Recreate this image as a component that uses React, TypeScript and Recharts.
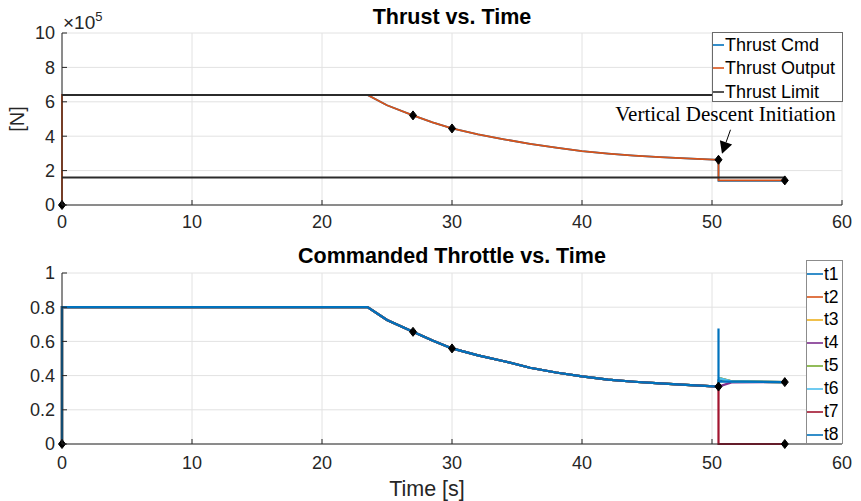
import React from 'react';
import { ComposedChart, Line, XAxis, YAxis, CartesianGrid, Legend, ReferenceDot } from 'recharts';

// ---------- data ----------
const xTicks = [0, 10, 20, 30, 40, 50, 60];
const thrustTicks = [0, 200000, 400000, 600000, 800000, 1000000];
const throttleTicks = [0, 0.2, 0.4, 0.6, 0.8, 1];

// Thrust [N] (t [s], value)
const thrustOutputPts: number[][] = [
  [0, 0], [0, 640000], [23.5, 640000], [25, 580000], [27, 521000], [28.5, 480000], [30, 445000],
  [32, 410000], [34, 382000], [36, 356000], [38, 333000], [40, 313000], [42, 299000], [44, 287000],
  [46, 278000], [48, 271000], [50.5, 263000], [50.5, 143000], [55.6, 143000],
];
const thrustCmdPts: number[][] = [
  [0, 0], [0, 640000], [23.5, 640000], [25, 580000], [27, 521000], [28.5, 480000], [30, 445000],
  [32, 410000], [34, 382000], [36, 356000], [38, 333000], [40, 313000], [42, 299000], [44, 287000],
  [46, 278000], [48, 271000], [50.5, 263000], [50.5, 140000], [55.6, 140000],
];
const thrustLimitUpperPts: number[][] = [[0, 640000], [55.6, 640000]];
const thrustLimitLowerPts: number[][] = [[0, 160000], [55.6, 160000]];
const thrustMarkerPts: number[][] = [[0, 0], [27, 521000], [30, 445000], [50.5, 263000], [55.6, 143000]];
const descentPoint = { t: 50.5, v: 263000 };

const thrustNames = ['Thrust Cmd', 'Thrust Output', 'Thrust Limit'];
const thrustColors = ['#0072BD', '#D95319', '#2b2b2b'];

// Commanded throttle
const throttleBasePts: number[][] = [
  [0, 0], [0, 0.8], [23.5, 0.8], [25, 0.725], [27, 0.656], [28.5, 0.605], [30, 0.559],
  [32, 0.518], [34, 0.484], [36, 0.446], [38, 0.418], [40, 0.395], [42, 0.377], [44, 0.364],
  [46, 0.354], [48, 0.346], [50.5, 0.336],
];
const tailT1: number[][] = [[50.5, 0.37], [51.5, 0.366], [55.6, 0.362]];
const tailT2: number[][] = [[50.55, 0.385], [51.5, 0.366], [55.6, 0.362]];
const tailT3: number[][] = [[50.55, 0.385], [51.5, 0.366], [55.6, 0.362]];
const tailT4: number[][] = [[51.5, 0.36], [55.6, 0.362]];
const tailT5: number[][] = [[50.55, 0.385], [51.5, 0.366], [55.6, 0.362]];
const tailT6: number[][] = [[50.55, 0.385], [51.5, 0.366], [55.6, 0.362]];
const tailT7: number[][] = [[50.5, 0], [55.6, 0]];
const tailT8: number[][] = [[50.5, 0.675], [50.5, 0.366], [55.6, 0.362]];
const throttleMarkerPts: number[][] = [[0, 0], [27, 0.656], [30, 0.559], [50.5, 0.336], [55.6, 0.362], [55.6, 0]];

const throttleNames = ['t1', 't2', 't3', 't4', 't5', 't6', 't7', 't8'];
const throttleTails = [tailT1, tailT2, tailT3, tailT4, tailT5, tailT6, tailT7, tailT8];
const throttleColors = ['#0072BD', '#D95319', '#EDB120', '#7E2F8E', '#77AC30', '#4DBEEE', '#A2142F', '#0072BD'];

const toPts = (arr: number[][]) => arr.map(([t, v]) => ({ t, v }));

// ---------- styling ----------
const FONT = '"Liberation Sans", Arial, Helvetica, sans-serif';
const SERIF = '"Liberation Serif", "Times New Roman", serif';
const AXIS = '#262626';
const GRID = '#e2e2e2';
const TICK_LEN = 5;
const TICK_FONT = 18;

const makeBottomTick = (margin: number) => (props: any) => {
  const { x, y, payload } = props;
  const ay = y - margin;
  return (
    <g>
      <line x1={x} x2={x} y1={ay} y2={ay - TICK_LEN} stroke={AXIS} />
      <text x={x} y={y} dy="0.71em" textAnchor="middle" fill={AXIS} fontSize={TICK_FONT} fontFamily={FONT}>
        {payload.value}
      </text>
    </g>
  );
};
const TopTick = (props: any) => {
  const { x, y } = props;
  return <line x1={x} x2={x} y1={y} y2={y + TICK_LEN} stroke={AXIS} />;
};
const makeLeftTick = (margin: number, fmt: (v: number) => string) => (props: any) => {
  const { x, y, payload } = props;
  const ax = x + margin;
  return (
    <g>
      <line x1={ax} x2={ax + TICK_LEN} y1={y} y2={y} stroke={AXIS} />
      <text x={x} y={y} dy="0.355em" textAnchor="end" fill={AXIS} fontSize={TICK_FONT} fontFamily={FONT}>
        {fmt(payload.value)}
      </text>
    </g>
  );
};
const RightTick = (props: any) => {
  const { x, y } = props;
  return <line x1={x} x2={x - TICK_LEN} y1={y} y2={y} stroke={AXIS} />;
};

const YLabel = (props: any) => {
  const vb = props.viewBox || { x: 0, y: 0, width: 0, height: 0 };
  const cx = vb.x + 17;
  const cy = vb.y + vb.height / 2;
  return (
    <text x={cx} y={cy} dy="0.36em" textAnchor="middle" transform={`rotate(-90, ${cx}, ${cy})`} fontSize={20} fontFamily={FONT} fill={AXIS}>
      [N]
    </text>
  );
};
const XLabel = (props: any) => {
  const vb = props.viewBox || { x: 0, y: 0, width: 0, height: 0 };
  return (
    <text x={vb.x + vb.width / 2 - 25} y={vb.y + vb.height - 5} textAnchor="middle" fontSize={21.5} fontFamily={FONT} fill={AXIS}>
      Time [s]
    </text>
  );
};

const Diamond = (props: any) => {
  const { cx, cy, index } = props;
  if (cx == null || cy == null) return <g key={index} />;
  return (
    <path
      key={index}
      d={`M${cx},${cy - 4.5}L${cx + 3.5},${cy}L${cx},${cy + 4.5}L${cx - 3.5},${cy}Z`}
      fill="#000"
      stroke="#000"
      strokeWidth={1}
    />
  );
};

const Annotation = (props: any) => {
  const { cx, cy } = props;
  const tipX = cx + 3.5;
  const tipY = cy - 6;
  const tailX = cx + 12;
  const tailY = cy - 30;
  const dx = tipX - tailX;
  const dy = tipY - tailY;
  const len = Math.hypot(dx, dy);
  const ux = dx / len;
  const uy = dy / len;
  const hl = 12;
  const hw = 6.5;
  const bx = tipX - ux * hl;
  const by = tipY - uy * hl;
  const p1 = `${bx - uy * hw},${by + ux * hw}`;
  const p2 = `${bx + uy * hw},${by - ux * hw}`;
  return (
    <g>
      <line x1={tailX} y1={tailY} x2={bx} y2={by} stroke="#000" strokeWidth={1} />
      <polygon points={`${tipX},${tipY} ${p1} ${p2}`} fill="#000" />
      <text x={cx + 7} y={cy - 39} textAnchor="middle" fontFamily={SERIF} fontSize={21} fill="#000">
        Vertical Descent Initiation
      </text>
    </g>
  );
};

const makeLegend = (names: string[], colors: string[], cfg: {
  w: number; h: number; border: string; padTop: number; rowH: number; lineW: number; lineLeft: number; gap: number; fontSize: number;
}) => () => (
  <div
    style={{
      background: '#fff', border: `1px solid ${cfg.border}`, width: cfg.w, height: cfg.h, boxSizing: 'border-box',
      paddingTop: cfg.padTop, fontFamily: FONT, fontSize: cfg.fontSize, color: '#000', lineHeight: 1,
    }}
  >
    {names.map((name, i) => (
      <div key={name} style={{ display: 'flex', alignItems: 'center', height: cfg.rowH, whiteSpace: 'nowrap' }}>
        <svg width={cfg.lineW} height={4} style={{ marginLeft: cfg.lineLeft, marginRight: cfg.gap, display: 'block' }}>
          <line x1={0} x2={cfg.lineW} y1={2} y2={2} stroke={colors[i]} strokeWidth={1.6} />
        </svg>
        <span>{name}</span>
      </div>
    ))}
  </div>
);

const TopLegend = makeLegend(thrustNames, thrustColors, { w: 131, h: 70, border: '#6a6a6a', padTop: 0, rowH: 23.5, lineW: 11, lineLeft: 0, gap: 1, fontSize: 18 });
const BottomLegend = makeLegend(throttleNames, throttleColors, { w: 37, h: 184, border: '#8c8c8c', padTop: 2, rowH: 22.9, lineW: 16, lineLeft: 0, gap: 1, fontSize: 17.5 });

export default function App() {
  return (
    <div style={{ position: 'absolute', left: 0, top: 0, width: 861, height: 501, background: '#fff', fontFamily: FONT, overflow: 'hidden' }}>
      {/* top chart */}
      <div style={{ position: 'absolute', left: 0, top: 0 }}>
        <ComposedChart width={861} height={245} margin={{ top: 33, right: 19, bottom: 0, left: 0 }}>
          <CartesianGrid stroke={GRID} strokeWidth={1} />
          <XAxis
            dataKey="t" type="number" domain={[0, 60]} ticks={xTicks} height={40}
            tickLine={false} tickSize={0} tickMargin={10} tick={makeBottomTick(10)}
            axisLine={{ stroke: AXIS }} interval={0}
          />
          <XAxis
            xAxisId="top" orientation="top" type="number" domain={[0, 60]} ticks={xTicks} height={0}
            tickLine={false} tickSize={0} tickMargin={0} tick={TopTick} axisLine={{ stroke: AXIS }} interval={0}
          />
          <YAxis
            dataKey="v" type="number" domain={[0, 1000000]} ticks={thrustTicks} width={62}
            tickLine={false} tickSize={0} tickMargin={7} tick={makeLeftTick(7, (v) => String(v / 100000))}
            axisLine={{ stroke: AXIS }} interval={0}
            label={<YLabel />}
          />
          <YAxis
            yAxisId="r" orientation="right" type="number" domain={[0, 1000000]} ticks={thrustTicks} width={0}
            tickLine={false} tickSize={0} tickMargin={0} tick={RightTick} axisLine={{ stroke: AXIS }} interval={0}
          />
          <Line data={toPts(thrustCmdPts)} dataKey="v" name={thrustNames[0]} stroke={thrustColors[0]} strokeWidth={1.8} dot={false} activeDot={false} isAnimationActive={false} type="linear" />
          <Line data={toPts(thrustOutputPts)} dataKey="v" name={thrustNames[1]} stroke={thrustColors[1]} strokeWidth={1.8} dot={false} activeDot={false} isAnimationActive={false} type="linear" />
          <Line data={toPts(thrustLimitUpperPts)} dataKey="v" name={thrustNames[2]} stroke={thrustColors[2]} strokeWidth={2} dot={false} activeDot={false} isAnimationActive={false} type="linear" />
          <Line data={toPts(thrustLimitLowerPts)} dataKey="v" name="Thrust Limit (lower)" legendType="none" stroke={thrustColors[2]} strokeWidth={2} dot={false} activeDot={false} isAnimationActive={false} type="linear" />
          <Line data={toPts(thrustMarkerPts)} dataKey="v" name="markers" legendType="none" stroke="none" dot={Diamond} activeDot={false} isAnimationActive={false} type="linear" />
          <ReferenceDot x={descentPoint.t} y={descentPoint.v} r={0} shape={Annotation} ifOverflow="visible" />
          <Legend layout="vertical" align="center" verticalAlign="middle" content={TopLegend} wrapperStyle={{ left: 712, top: 32, width: 131, height: 70 }} />
        </ComposedChart>
      </div>

      {/* bottom chart */}
      <div style={{ position: 'absolute', left: 0, top: 230 }}>
        <ComposedChart width={861} height={271} margin={{ top: 43, right: 19, bottom: 0, left: 0 }}>
          <CartesianGrid stroke={GRID} strokeWidth={1} />
          <XAxis
            dataKey="t" type="number" domain={[0, 60]} ticks={xTicks} height={57}
            tickLine={false} tickSize={0} tickMargin={12} tick={makeBottomTick(12)}
            axisLine={{ stroke: AXIS }} interval={0}
            label={<XLabel />}
          />
          <XAxis
            xAxisId="top" orientation="top" type="number" domain={[0, 60]} ticks={xTicks} height={0}
            tickLine={false} tickSize={0} tickMargin={0} tick={TopTick} axisLine={{ stroke: AXIS }} interval={0}
          />
          <YAxis
            dataKey="v" type="number" domain={[0, 1]} ticks={throttleTicks} width={62}
            tickLine={false} tickSize={0} tickMargin={7} tick={makeLeftTick(7, (v) => String(v))}
            axisLine={{ stroke: AXIS }} interval={0}
          />
          <YAxis
            yAxisId="r" orientation="right" type="number" domain={[0, 1]} ticks={throttleTicks} width={0}
            tickLine={false} tickSize={0} tickMargin={0} tick={RightTick} axisLine={{ stroke: AXIS }} interval={0}
          />
          {throttleNames.map((name, i) => (
            <Line
              key={name}
              data={toPts([...throttleBasePts, ...throttleTails[i]])}
              dataKey="v" name={name} stroke={throttleColors[i]} strokeWidth={2.2}
              dot={false} activeDot={false} isAnimationActive={false} type="linear"
            />
          ))}
          <Line data={toPts(throttleMarkerPts)} dataKey="v" name="markers" legendType="none" stroke="none" dot={Diamond} activeDot={false} isAnimationActive={false} type="linear" />
          <Legend layout="vertical" align="center" verticalAlign="middle" content={BottomLegend} wrapperStyle={{ left: 806, top: 30, width: 37, height: 184 }} />
        </ComposedChart>
      </div>

      {/* titles and exponent */}
      <div style={{ position: 'absolute', left: 62, top: 6, width: 780, textAlign: 'center', fontSize: 21.5, fontWeight: 'bold', lineHeight: '22px', color: '#000' }}>
        Thrust vs. Time
      </div>
      <div style={{ position: 'absolute', left: 62, top: 245, width: 780, textAlign: 'center', fontSize: 21.5, fontWeight: 'bold', lineHeight: '22px', color: '#000' }}>
        Commanded Throttle vs. Time
      </div>
      <div style={{ position: 'absolute', left: 63, top: 13, fontSize: 19, lineHeight: '19px', color: AXIS, whiteSpace: 'nowrap' }}>
        ×10<span style={{ position: 'relative', top: -8, fontSize: 13 }}>5</span>
      </div>
    </div>
  );
}
